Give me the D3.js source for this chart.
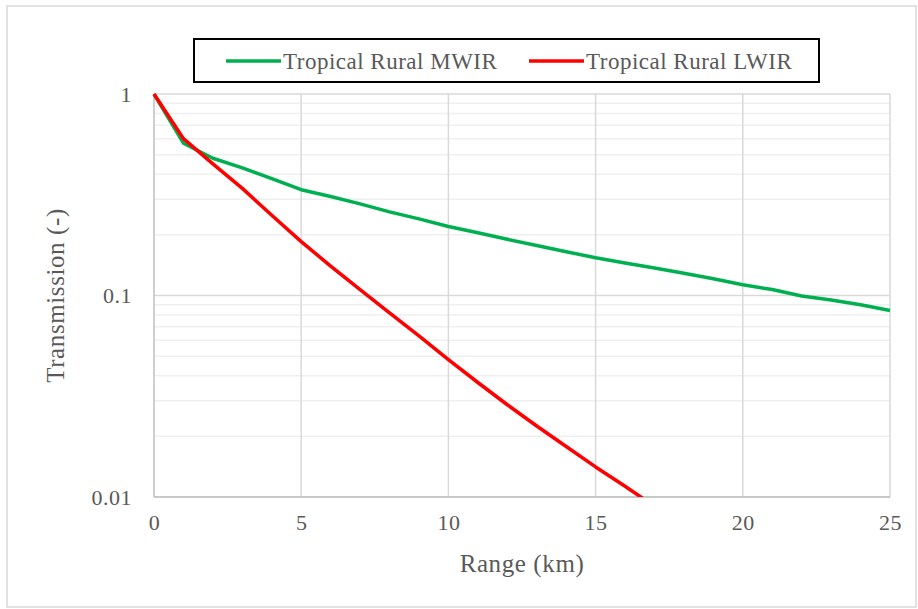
<!DOCTYPE html>
<html>
<head>
<meta charset="utf-8">
<script src="https://cdn.jsdelivr.net/npm/d3@7"></script>
<style>
    body { margin: 0; background: #fff; }
    svg { display: block; font-family: "Liberation Serif", "Times New Roman", serif; }
</style>
</head>
<body>
<svg id="chart" width="918" height="609"></svg>
<script>
// Data
const rangeKm = [0, 1, 2, 3, 4, 5, 6, 7, 8, 9, 10, 11, 12, 13, 14, 15, 16, 17, 18, 19, 20, 21, 22, 23, 24, 25];
const mwir = [1, 0.57, 0.48, 0.43, 0.38, 0.335, 0.31, 0.285, 0.26, 0.24, 0.22, 0.205, 0.19, 0.177, 0.165, 0.154,
    0.145, 0.137, 0.129, 0.121, 0.113, 0.107, 0.0995, 0.095, 0.09, 0.0843];
const lwir = [1, 0.6, 0.45, 0.34, 0.25, 0.185, 0.14, 0.107, 0.082, 0.063, 0.048, 0.037, 0.0287, 0.0225, 0.0178, 0.0141,
    0.0113, 0.009, 0.0072, 0.0058, 0.0046, 0.0037, 0.003, 0.0024, 0.0019, 0.0015];
const seriesNames = ['Tropical Rural MWIR', 'Tropical Rural LWIR'];
const seriesColors = ['#00b050', '#ff0000'];
const xTicks = [0, 5, 10, 15, 20, 25];
const yTicks = [1, 0.1, 0.01];
const yTickLabels = ['1', '0.1', '0.01'];

const svg = d3.select('#chart');
const margin = { left: 154, right: 28, top: 94, bottom: 112 };
const width = 918, height = 609;

// Outer frame
svg.append('rect')
    .attr('x', 7).attr('y', 6)
    .attr('width', 909).attr('height', 601)
    .attr('fill', 'none').attr('stroke', '#d9d9d9').attr('stroke-width', 1.5);

const x = d3.scaleLinear().domain([0, 25]).range([margin.left, width - margin.right]);
const y = d3.scaleLog().domain([0.01, 1]).range([height - margin.bottom, margin.top]);

// Minor horizontal gridlines
const minor = [];
[0.01, 0.1].forEach(dec => { for (let k = 2; k <= 9; k++) minor.push(dec * k); });
svg.append('g').selectAll('line').data(minor).enter().append('line')
    .attr('x1', x(0)).attr('x2', x(25))
    .attr('y1', d => y(d)).attr('y2', d => y(d))
    .attr('stroke', '#efefef').attr('stroke-width', 1.5);

// Major horizontal gridlines
svg.append('g').selectAll('line').data(yTicks).enter().append('line')
    .attr('x1', x(0)).attr('x2', x(25))
    .attr('y1', d => y(d)).attr('y2', d => y(d))
    .attr('stroke', '#d9d9d9').attr('stroke-width', 1.5);

// Vertical gridlines
svg.append('g').selectAll('line').data(xTicks.slice(1)).enter().append('line')
    .attr('x1', d => x(d)).attr('x2', d => x(d))
    .attr('y1', y(1)).attr('y2', y(0.01))
    .attr('stroke', '#d9d9d9').attr('stroke-width', 1.5);

// Axis lines
svg.append('line')
    .attr('x1', x(0)).attr('x2', x(0)).attr('y1', y(1)).attr('y2', y(0.01))
    .attr('stroke', '#bfbfbf').attr('stroke-width', 1.5);
svg.append('line')
    .attr('x1', x(0)).attr('x2', x(25)).attr('y1', y(0.01)).attr('y2', y(0.01))
    .attr('stroke', '#bfbfbf').attr('stroke-width', 1.5);

// Tick labels
const xAxis = d3.axisBottom(x).tickValues(xTicks).tickSize(0).tickPadding(17);
const gx = svg.append('g').attr('transform', `translate(0,${y(0.01)})`).call(xAxis);
gx.select('.domain').remove();
gx.selectAll('text').attr('font-size', 22).attr('fill', '#595959')
    .attr('letter-spacing', 0.5)
    .attr('font-family', '"Liberation Serif", serif');

const yAxis = d3.axisLeft(y).tickValues(yTicks).tickFormat((d, i) => yTickLabels[i]).tickSize(0).tickPadding(22);
const gy = svg.append('g').attr('transform', `translate(${x(0)},0)`).call(yAxis);
gy.select('.domain').remove();
gy.selectAll('text').attr('font-size', 22).attr('fill', '#595959')
    .attr('letter-spacing', 0.5)
    .attr('font-family', '"Liberation Serif", serif');

// Axis titles
svg.append('text')
    .attr('x', (x(0) + x(25)) / 2).attr('y', 572)
    .attr('text-anchor', 'middle')
    .attr('font-size', 25).attr('fill', '#595959')
    .attr('letter-spacing', 0.6)
    .text('Range (km)');
svg.append('text')
    .attr('transform', `translate(64,${(y(1) + y(0.01)) / 2}) rotate(-90)`)
    .attr('text-anchor', 'middle')
    .attr('font-size', 25).attr('fill', '#595959')
    .attr('letter-spacing', 0.6)
    .text('Transmission (-)');

// Lines
svg.append('clipPath').attr('id', 'plot-clip')
    .append('rect')
    .attr('x', x(0) - 2).attr('y', y(1) - 3)
    .attr('width', x(25) - x(0) + 4).attr('height', y(0.01) - y(1) + 3);

const line = d3.line()
    .x((d, i) => x(rangeKm[i]))
    .y(d => y(d));

const lineGroup = svg.append('g').attr('clip-path', 'url(#plot-clip)');
[mwir, lwir].forEach((vals, s) => {
    lineGroup.append('path')
        .datum(vals)
        .attr('d', line)
        .attr('fill', 'none')
        .attr('stroke', seriesColors[s])
        .attr('stroke-width', 3.5)
        .attr('stroke-linejoin', 'round');
});

// Legend
const legend = svg.append('g');
legend.append('rect')
    .attr('x', 194).attr('y', 39)
    .attr('width', 625).attr('height', 43)
    .attr('fill', '#fff').attr('stroke', '#000').attr('stroke-width', 2);
const legendX = [226, 529];
seriesNames.forEach((name, s) => {
    legend.append('line')
        .attr('x1', legendX[s]).attr('x2', legendX[s] + 55)
        .attr('y1', 61).attr('y2', 61)
        .attr('stroke', seriesColors[s]).attr('stroke-width', 3.5);
    legend.append('text')
        .attr('x', legendX[s] + 57).attr('y', 69)
        .attr('font-size', 23).attr('fill', '#595959')
        .attr('letter-spacing', 0.5)
        .text(name);
});
</script>
</body>
</html>
